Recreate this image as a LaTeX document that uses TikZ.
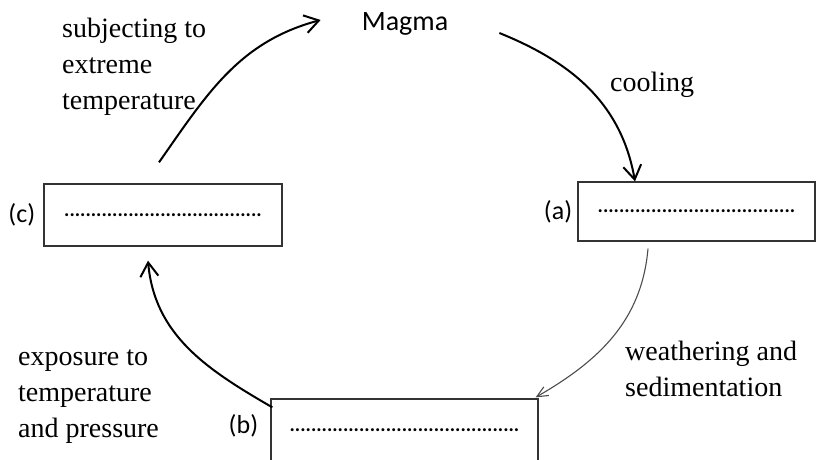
\documentclass[tikz,border=0pt]{standalone}
\usepackage{fontspec}
\setmainfont{Liberation Serif}
\newfontfamily\calibri{Carlito}
\usetikzlibrary{arrows.meta,positioning}

\begin{document}
\begin{tikzpicture}[x=1pt, y=1pt,
  box/.style={draw=black!80, line width=1.3pt, minimum width=238pt, minimum height=62pt,
              inner sep=0pt, font=\calibri\bfseries\fontsize{20}{24}\selectfont},
  tag/.style={inner sep=0pt, font=\calibri\fontsize{26}{30}\selectfont},
  lbl/.style={inner sep=0pt, align=left, anchor=base west, font=\fontsize{28}{36}\selectfont},
  arr/.style={-{Straight Barb[length=14pt, width=18pt]}, line width=2pt},
  garr/.style={-{Straight Barb[length=11pt, width=10pt]}, line width=1.1pt, draw=black!70}]
\useasboundingbox (0,0) rectangle (816,460);
\node[font=\calibri\fontsize{28}{34}\selectfont, inner sep=0pt, anchor=base] (magma) at (405,429) {Magma};
\node[box] (boxc) at (163,245) {.....................................};
\node[box, minimum width=237pt, minimum height=59pt] (boxa) at (696.5,248.5) {.....................................};
\node[box, minimum width=267pt, minimum height=63pt] (boxb) at (404.5,29.5) {...........................................};
\node[tag, left=8pt of boxc] (tagc) {(c)};
\node[tag, left=5pt of boxa] (taga) {(a)};
\node[tag, left=12pt of boxb, yshift=5pt] (tagb) {(b)};
\node[lbl] (subj) at (62,350) {subjecting to\\extreme\\temperature};
\node[lbl] (cool) at (610,368) {cooling};
\node[lbl] (weath) at (625,63) {weathering and\\sedimentation};
\node[lbl] (expo) at (18,22) {exposure to\\temperature\\and pressure};
\draw[arr] ([xshift=-4pt,yshift=21pt]boxc.north) to[out=55,in=195] ([xshift=-41pt,yshift=11pt]magma.base west);
\draw[arr] ([xshift=51pt,yshift=-2pt]magma.base east) to[out=-22,in=100] ([xshift=-61.5pt]boxa.north);
\draw[garr] ([xshift=-48.5pt,yshift=-7pt]boxa.south) to[out=-95,in=30] ([xshift=-3pt,yshift=1pt]boxb.north east);
\draw[arr] ([xshift=2pt,yshift=-9pt]boxb.north west) to[out=150,in=-85] ([xshift=-15pt,yshift=-14pt]boxc.south);
\end{tikzpicture}
\end{document}
